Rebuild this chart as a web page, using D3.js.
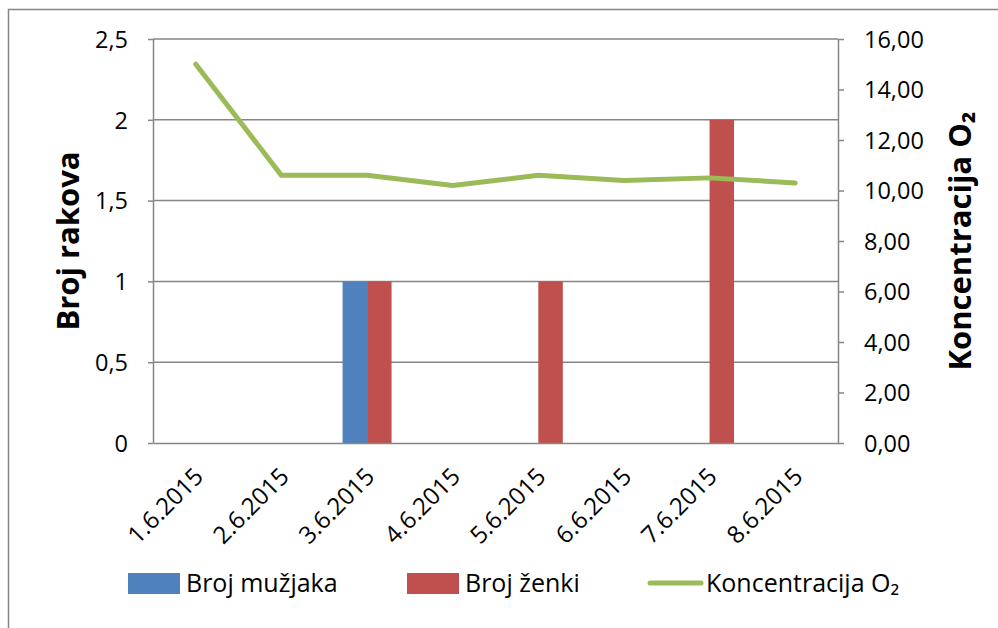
<!DOCTYPE html>
<html lang="hr">
<head>
    <meta charset="UTF-8">
    <title>Broj rakova i koncentracija O2</title>
    <script src="https://cdn.jsdelivr.net/npm/d3@7"></script>
    <style>
        body { margin: 0; background: #fff; }
        text { font-family: "Open Sans", "Noto Sans", sans-serif; fill: #000; }
    </style>
</head>
<body>
<script type="text/javascript">
    var width = 998;
    var height = 628;

    var dates = ["1.6.2015", "2.6.2015", "3.6.2015", "4.6.2015", "5.6.2015", "6.6.2015", "7.6.2015", "8.6.2015"];
    var muzjaci = [0, 0, 1, 0, 0, 0, 0, 0];
    var zenke = [0, 0, 1, 0, 1, 0, 2, 0];
    var kisik = [15.0, 10.6, 10.6, 10.2, 10.6, 10.4, 10.5, 10.3];
    var leftTicks = [0, 0.5, 1, 1.5, 2, 2.5];
    var rightTicks = [0, 2, 4, 6, 8, 10, 12, 14, 16];

    var plot = {left: 153, right: 838, top: 39, bottom: 443};
    var gridColor = "#868686";

    var svg = d3.select('body').append('svg')
            .attr('width', width)
            .attr('height', height);

    // okvir
    svg.append("rect")
            .attr("x", 8.5).attr("y", 9.5)
            .attr("width", 1000).attr("height", 640)
            .attr("fill", "none")
            .attr("stroke", gridColor)
            .attr("stroke-width", 1.5);

    var xScale = d3.scaleBand()
            .domain(dates)
            .range([plot.left, plot.right]);
    var yLeft = d3.scaleLinear()
            .domain([0, 2.5])
            .range([plot.bottom, plot.top]);
    var yRight = d3.scaleLinear()
            .domain([0, 16])
            .range([plot.bottom, plot.top]);

    var fmtLeft = function (d) { return String(d).replace(".", ","); };
    var fmtRight = function (d) { return d.toFixed(2).replace(".", ","); };

    function drawGrid() {
        svg.append("g")
                .selectAll("line")
                .data(leftTicks.slice(1))
                .enter()
                .append("line")
                .attr("x1", plot.left)
                .attr("x2", plot.right)
                .attr("y1", function (d) { return yLeft(d); })
                .attr("y2", function (d) { return yLeft(d); })
                .attr("stroke", gridColor)
                .attr("stroke-width", 1.5);
    }

    function drawAxis() {
        var leftAxis = d3.axisLeft(yLeft)
                .tickValues(leftTicks)
                .tickFormat(fmtLeft)
                .tickSizeInner(5)
                .tickSizeOuter(0)
                .tickPadding(20);
        var gl = svg.append("g")
                .attr("transform", "translate(" + plot.left + ",0)")
                .call(leftAxis);

        var rightAxis = d3.axisRight(yRight)
                .tickValues(rightTicks)
                .tickFormat(fmtRight)
                .tickSizeInner(6)
                .tickSizeOuter(0)
                .tickPadding(20);
        var gr = svg.append("g")
                .attr("transform", "translate(" + plot.right + ",0)")
                .call(rightAxis);

        var xAxis = d3.axisBottom(xScale)
                .tickSize(0)
                .tickPadding(0);
        var gx = svg.append("g")
                .attr("transform", "translate(0," + plot.bottom + ")")
                .call(xAxis);

        [gl, gr, gx].forEach(function (g) {
            g.select(".domain").attr("stroke", gridColor).attr("stroke-width", 1.5);
            g.selectAll(".tick line").attr("stroke", gridColor).attr("stroke-width", 1.5);
            g.selectAll("text")
                    .attr("font-size", "23.5px")
                    .attr("font-family", '"Open Sans", "Noto Sans", sans-serif')
                    .attr("fill", "#000");
        });
        gl.selectAll(".tick text").attr("dy", "0.35em");
        gr.selectAll(".tick text").attr("dy", "0.35em");
        gx.selectAll("text")
                .attr("font-size", "24px")
                .attr("text-anchor", "end")
                .attr("dy", 0)
                .attr("transform", "translate(9,35) rotate(-45)");

        svg.append("text")
                .attr("transform", "translate(79," + ((plot.top + plot.bottom) / 2) + ") rotate(-90)")
                .attr("text-anchor", "middle")
                .attr("font-size", "31px")
                .attr("font-weight", "bold")
                .text("Broj rakova");

        svg.append("text")
                .attr("transform", "translate(971," + ((plot.top + plot.bottom) / 2) + ") rotate(-90)")
                .attr("text-anchor", "middle")
                .attr("font-size", "31px")
                .attr("font-weight", "bold")
                .text("Koncentracija O\u2082");
    }

    function drawBars() {
        var barW = xScale.bandwidth() * 0.286;
        svg.append("g")
                .selectAll("rect")
                .data(muzjaci)
                .enter()
                .append("rect")
                .attr("fill", "#4F81BD")
                .attr("x", function (d, i) { return xScale(dates[i]) + xScale.bandwidth() / 2 - barW; })
                .attr("y", function (d) { return yLeft(d); })
                .attr("width", barW)
                .attr("height", function (d) { return plot.bottom - yLeft(d); });

        svg.append("g")
                .selectAll("rect")
                .data(zenke)
                .enter()
                .append("rect")
                .attr("fill", "#C0504D")
                .attr("x", function (d, i) { return xScale(dates[i]) + xScale.bandwidth() / 2; })
                .attr("y", function (d) { return yLeft(d); })
                .attr("width", barW)
                .attr("height", function (d) { return plot.bottom - yLeft(d); });
    }

    function drawLine() {
        var line = d3.line()
                .x(function (d, i) { return xScale(dates[i]) + xScale.bandwidth() / 2; })
                .y(function (d) { return yRight(d); });
        svg.append("path")
                .datum(kisik)
                .attr("d", line)
                .attr("fill", "none")
                .attr("stroke", "#9BBB59")
                .attr("stroke-width", 5)
                .attr("stroke-linecap", "round")
                .attr("stroke-linejoin", "round");
    }

    function drawLegend() {
        var ly = 583;
        var items = [
            {name: "Broj mužjaka", color: "#4F81BD", x: 128, type: "rect"},
            {name: "Broj ženki", color: "#C0504D", x: 407, type: "rect"},
            {name: "Koncentracija O\u2082", color: "#9BBB59", x: 648, type: "line"}
        ];
        var g = svg.append("g");
        items.forEach(function (it) {
            if (it.type === "rect") {
                g.append("rect")
                        .attr("x", it.x).attr("y", ly - 10)
                        .attr("width", 52).attr("height", 21)
                        .attr("fill", it.color);
            } else {
                g.append("line")
                        .attr("x1", it.x + 2).attr("x2", it.x + 53)
                        .attr("y1", ly).attr("y2", ly)
                        .attr("stroke", it.color)
                        .attr("stroke-width", 5)
                        .attr("stroke-linecap", "round");
            }
            g.append("text")
                    .attr("x", it.x + 58)
                    .attr("y", ly)
                    .attr("dy", "0.35em")
                    .attr("font-size", "25px")
                    .text(it.name);
        });
    }

    drawGrid();
    drawBars();
    drawLine();
    drawAxis();
    drawLegend();
</script>
</body>
</html>
